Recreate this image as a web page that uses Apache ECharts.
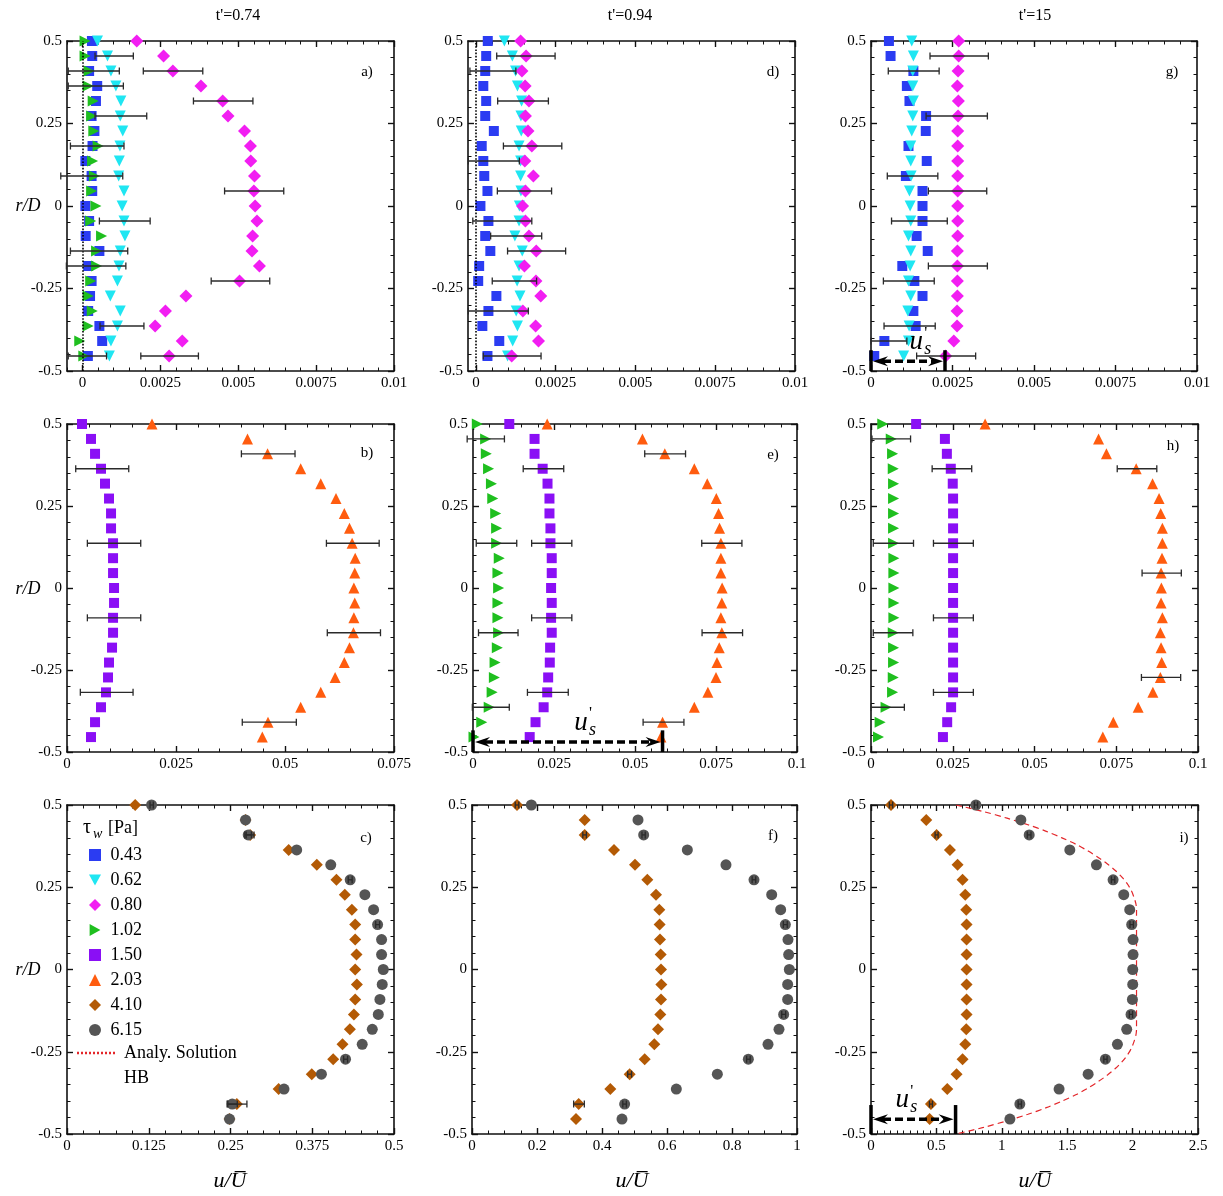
<!DOCTYPE html>
<html>
<head>
<meta charset="utf-8">
<title>velocity profiles</title>
<script src="https://cdn.jsdelivr.net/npm/echarts@6/dist/echarts.min.js"></script>
<style>
  html, body { margin: 0; padding: 0; background: #fff; }
  #chart { width: 1223px; height: 1196px; }
</style>
</head>
<body>
<div id="chart"></div>
<script>
// radial stations r/D
const rD = [0.5, 0.4545, 0.4091, 0.3636, 0.3182, 0.2727, 0.2273, 0.1818, 0.1364, 0.0909, 0.0455, 0,
  -0.0455, -0.0909, -0.1364, -0.1818, -0.2273, -0.2727, -0.3182, -0.3636, -0.4091, -0.4545];

// tick labels
const yTicks = [-0.5, -0.25, 0, 0.25, 0.5];
const ticksRow1 = [0, 0.0025, 0.005, 0.0075, 0.01];
const ticksB = [0, 0.025, 0.05, 0.075];
const ticksEH = [0, 0.025, 0.05, 0.075, 0.1];
const ticksC = [0, 0.125, 0.25, 0.375, 0.5];
const ticksF = [0, 0.2, 0.4, 0.6, 0.8, 1];
const ticksI = [0, 0.5, 1, 1.5, 2, 2.5];

const titles = ["t'=0.74", "t'=0.94", "t'=15"];
const panelLetters = ['a)', 'd)', 'g)', 'b)', 'e)', 'h)', 'c)', 'f)', 'i)'];
const legendNames = ['0.43', '0.62', '0.80', '1.02', '1.50', '2.03', '4.10', '6.15'];

// a) t'=0.74
const a043 = [0.0003, 0.00031, 0.00021, 0.00047, 0.00043, 0.00029, 0.00038, 0.00032, 0.00009, 0.00029, 0.00031,
  0.00009, 0.00021, 0.0001, 0.00054, 0.00018, 0.00029, 0.00024, 0.00018, 0.00054, 0.00063, 0.00017];
const a062 = [0.00048, 0.0008, 0.00091, 0.00107, 0.00123, 0.00121, 0.00129, 0.0012, 0.00118, 0.00116, 0.00133,
  0.00127, 0.00133, 0.00136, 0.00121, 0.00117, 0.00112, 0.00089, 0.00121, 0.00112, 0.00091, 0.00086];
const a080 = [0.00174, 0.0026, 0.0029, 0.0038, 0.0045, 0.00467, 0.0052, 0.00539, 0.0054, 0.00552, 0.0055,
  0.00554, 0.0056, 0.00546, 0.00544, 0.00568, 0.00504, 0.00332, 0.00266, 0.00233, 0.0032, 0.00278];
const a102 = [0.00008, 0.00008, 0.00021, 0.00018, 0.00034, 0.00029, 0.00036, 0.0005, 0.00032, 0.00038, 0.00029,
  0.00043, 0.00026, 0.00061, 0.00045, 0.00045, 0.00026, 0.00018, 0.00031, 0.00018, -0.00009, 0.00004];
const aErr = [[0.0004, 0.00163, 0.4545], [-0.00046, 0.00118, 0.4091], [0.00195, 0.00386, 0.4091],
  [-0.00046, 0.00131, 0.3636], [0.00356, 0.00547, 0.3182], [0.0004, 0.00206, 0.2727],
  [-0.00039, 0.00133, 0.1818], [-0.0007, 0.00129, 0.0909], [0.00456, 0.00646, 0.0455],
  [0.00054, 0.00217, -0.0455], [-0.00039, 0.00145, -0.1364], [-0.00052, 0.00139, -0.1818],
  [0.00413, 0.00601, -0.2273], [0.00056, 0.00197, -0.3636], [0.00187, 0.00372, -0.4545],
  [-0.00046, 0.00077, -0.4545]];

// d) t'=0.94
const d043 = [0.00037, 0.00032, 0.00029, 0.00023, 0.00032, 0.00029, 0.00056, 0.00018, 0.00023, 0.00026, 0.00036,
  0.00014, 0.00039, 0.00029, 0.00045, 0.0001, 0.00007, 0.00064, 0.00039, 0.0002, 0.00073, 0.00036];
const d062 = [0.00089, 0.00114, 0.00124, 0.0013, 0.00143, 0.00141, 0.00142, 0.00135, 0.0014, 0.0014, 0.00141,
  0.00136, 0.00135, 0.00122, 0.00145, 0.00135, 0.00129, 0.00138, 0.00126, 0.0013, 0.00115, 0.00099];
const d080 = [0.0014, 0.00157, 0.00144, 0.00154, 0.00166, 0.00155, 0.00163, 0.00175, 0.00153, 0.0018, 0.00155,
  0.00146, 0.00155, 0.00166, 0.00189, 0.00152, 0.00188, 0.00203, 0.00147, 0.00187, 0.00196, 0.00112];
const dErr = [[0.00065, 0.00248, 0.4545], [-0.00019, 0.00125, 0.4091], [0.00068, 0.00227, 0.3182],
  [0.00086, 0.00269, 0.1818], [-0.00024, 0.00136, 0.1364], [0.00067, 0.00237, 0.0455],
  [-0.0001, 0.00175, -0.0455], [0.00046, 0.00206, -0.0909], [0.00099, 0.00281, -0.1364],
  [0.00051, 0.0019, -0.2273], [-0.00024, 0.00164, -0.3182], [0.00023, 0.00204, -0.4545]];

// g) t'=15
const g043 = [0.00055, 0.0006, 0.0013, 0.0011, 0.00118, 0.00169, 0.00168, 0.00115, 0.00171, 0.00107, 0.00158,
  0.00158, 0.00158, 0.0014, 0.00174, 0.00096, 0.00133, 0.00158, 0.0013, 0.00137, 0.00041, 0.0001];
const g062 = [0.00125, 0.0013, 0.00128, 0.00128, 0.0013, 0.00128, 0.00125, 0.00122, 0.00122, 0.00123, 0.00118,
  0.0012, 0.00122, 0.00115, 0.00122, 0.0012, 0.00115, 0.00122, 0.00113, 0.00117, 0.00115, 0.001];
const g080 = [0.00269, 0.00269, 0.00267, 0.00265, 0.00268, 0.00267, 0.00266, 0.00266, 0.00266, 0.00266, 0.00266,
  0.00266, 0.00266, 0.00266, 0.00265, 0.00265, 0.00265, 0.00265, 0.00264, 0.00264, 0.00254, 0.00229];
const gErr = [[0.00181, 0.0036, 0.4545], [0.00053, 0.00209, 0.4091], [0.00169, 0.00357, 0.2727],
  [0.0005, 0.00205, 0.0909], [0.00176, 0.00355, 0.0455], [0.00063, 0.00234, -0.0455],
  [0.00176, 0.00357, -0.1818], [0.00038, 0.00194, -0.2273], [0.0004, 0.00197, -0.3636],
  [0.0, 0.0011, -0.4091], [0.0014, 0.00321, -0.4545]];

// b) t'=0.74
const b150 = [0.00344, 0.0055, 0.00643, 0.0078, 0.00872, 0.00964, 0.0101, 0.0101, 0.01056, 0.01056, 0.01056,
  0.01079, 0.01079, 0.01056, 0.01056, 0.01033, 0.00964, 0.00941, 0.00895, 0.0078, 0.00643, 0.0055];
const b203 = [0.0195, 0.0414, 0.046, 0.0536, 0.0582, 0.0617, 0.0636, 0.0648, 0.0654, 0.0661, 0.066,
  0.0658, 0.066, 0.0658, 0.0657, 0.0648, 0.0636, 0.0615, 0.0582, 0.0536, 0.0461, 0.0448];
const bErr = [[0.002, 0.01416, 0.3636], [0.04, 0.0523, 0.4091], [0.00467, 0.01691, 0.1364],
  [0.0595, 0.0716, 0.1364], [0.00467, 0.01691, -0.0909], [0.0597, 0.0719, -0.1364],
  [0.00306, 0.01515, -0.3182], [0.0402, 0.0526, -0.4091]];

// e) t'=0.94
const e102 = [0.00134, 0.0039, 0.0041, 0.0048, 0.0057, 0.0061, 0.007, 0.0073, 0.0073, 0.0081, 0.0077,
  0.0079, 0.0077, 0.0077, 0.0079, 0.0075, 0.0068, 0.0066, 0.0059, 0.005, 0.0027, 0.0003];
const e150 = [0.0112, 0.019, 0.019, 0.0215, 0.023, 0.0236, 0.0236, 0.0239, 0.0239, 0.0243, 0.0243,
  0.0241, 0.0243, 0.0241, 0.0243, 0.0238, 0.0237, 0.0232, 0.0229, 0.0218, 0.0193, 0.0175];
const e203 = [0.0229, 0.0523, 0.0592, 0.0683, 0.0723, 0.0751, 0.0758, 0.0761, 0.0765, 0.0765, 0.0765,
  0.0769, 0.0768, 0.0765, 0.0768, 0.076, 0.0753, 0.075, 0.0725, 0.0683, 0.0585, 0.058];
const eErr = [[-0.0018, 0.0097, 0.4545], [0.001, 0.0135, 0.1364], [0.0017, 0.0139, -0.1364],
  [-0.0002, 0.0112, -0.3636], [0.0155, 0.028, 0.3636], [0.0181, 0.0305, 0.1364],
  [0.0181, 0.0305, -0.0909], [0.0168, 0.0294, -0.3182], [0.053, 0.0656, 0.4091],
  [0.0706, 0.083, 0.1364], [0.0707, 0.0832, -0.1364], [0.0525, 0.0651, -0.4091]];

// h) t'=15
const h102 = [0.0036, 0.0062, 0.0066, 0.0068, 0.0069, 0.0069, 0.0069, 0.0069, 0.0069, 0.007, 0.007,
  0.007, 0.007, 0.007, 0.0068, 0.0069, 0.0069, 0.0068, 0.0066, 0.0046, 0.0028, 0.0023];
const h150 = [0.0138, 0.0226, 0.0232, 0.0244, 0.025, 0.0251, 0.0251, 0.0251, 0.0251, 0.0251, 0.0251,
  0.0251, 0.0251, 0.0251, 0.0251, 0.0251, 0.0251, 0.0251, 0.0251, 0.0245, 0.0233, 0.022];
const h203 = [0.0349, 0.0696, 0.072, 0.0811, 0.0861, 0.0881, 0.0886, 0.0891, 0.0891, 0.089, 0.0887,
  0.0888, 0.0887, 0.0891, 0.0885, 0.0887, 0.0889, 0.0885, 0.0862, 0.0817, 0.0741, 0.0709];
const hErr = [[0.0003, 0.0121, 0.4545], [0.0007, 0.013, 0.1364], [0.0007, 0.0128, -0.1364],
  [0.0, 0.0102, -0.3636], [0.0187, 0.0308, 0.3636], [0.0191, 0.0313, 0.1364],
  [0.0191, 0.0313, -0.0909], [0.0191, 0.0313, -0.3182], [0.0753, 0.0874, 0.3636],
  [0.0829, 0.0949, 0.0455], [0.0827, 0.0947, -0.2727]];

// c) t'=0.74
const c410 = [0.1043, 0.273, 0.28, 0.339, 0.382, 0.412, 0.4248, 0.4356, 0.4407, 0.4407, 0.4427,
  0.4407, 0.4432, 0.4407, 0.4387, 0.4325, 0.4213, 0.407, 0.3742, 0.3236, 0.2597, 0.2485];
const c615 = [0.1293, 0.273, 0.2771, 0.3512, 0.4033, 0.433, 0.4555, 0.4688, 0.4749, 0.481, 0.481,
  0.4836, 0.482, 0.4785, 0.476, 0.4668, 0.4514, 0.4259, 0.389, 0.3318, 0.2526, 0.2485];
const cErr = [[0.274, 0.286, 0.4091], [0.2459, 0.2751, -0.4091], [0.127, 0.132, 0.5], [0.272, 0.282, 0.4091],
  [0.43, 0.436, 0.2727], [0.472, 0.478, 0.1364], [0.423, 0.429, -0.2727], [0.2448, 0.2604, -0.4091]];

// f) t'=0.94
const f410 = [0.1385, 0.3467, 0.3467, 0.4369, 0.5015, 0.5395, 0.5662, 0.5764, 0.5774, 0.5785, 0.5805,
  0.5815, 0.5826, 0.5815, 0.5795, 0.5723, 0.561, 0.5313, 0.4851, 0.4256, 0.3282, 0.32];
const f615 = [0.1826, 0.5108, 0.5282, 0.6626, 0.7815, 0.8677, 0.9221, 0.9497, 0.9641, 0.9723, 0.9744,
  0.9764, 0.9713, 0.9713, 0.959, 0.9446, 0.9108, 0.8503, 0.7549, 0.6287, 0.4697, 0.4615];
const fErr = [[0.133, 0.144, 0.5], [0.341, 0.352, 0.4091], [0.479, 0.491, -0.3182], [0.3128, 0.3456, -0.4091],
  [0.523, 0.533, 0.4091], [0.862, 0.873, 0.2727], [0.958, 0.97, 0.1364], [0.953, 0.965, -0.1364],
  [0.845, 0.856, -0.2727], [0.464, 0.475, -0.4091]];

// i) t'=15
const i410 = [0.153, 0.4226, 0.5015, 0.6034, 0.6619, 0.7001, 0.7205, 0.7281, 0.7307, 0.7307, 0.7307,
  0.7307, 0.7307, 0.7307, 0.7307, 0.7281, 0.7205, 0.7001, 0.6543, 0.583, 0.4582, 0.448];
const i615 = [0.802, 1.1456, 1.2093, 1.52, 1.7235, 1.8508, 1.9323, 1.978, 1.993, 2.0035, 2.0035,
  2.001, 2.001, 1.9985, 1.988, 1.955, 1.884, 1.792, 1.66, 1.438, 1.138, 1.062];
const iErr = [[0.14, 0.166, 0.5], [0.49, 0.513, 0.4091], [0.447, 0.47, -0.4091], [0.79, 0.815, 0.5],
  [1.195, 1.223, 0.4091], [1.838, 1.864, 0.2727], [1.98, 2.006, 0.1364], [1.975, 2.0, -0.1364],
  [1.78, 1.805, -0.2727], [1.125, 1.15, -0.4091]];

// Herschel-Bulkley analytical profile (panel i)
const hbR = [0.5, 0.48, 0.46, 0.44, 0.42, 0.4, 0.38, 0.36, 0.34, 0.32, 0.3, 0.28, 0.26, 0.24, 0.22, 0.2, 0.18, 0,
  -0.18, -0.2, -0.22, -0.24, -0.26, -0.28, -0.3, -0.32, -0.34, -0.36, -0.38, -0.4, -0.42, -0.44, -0.46, -0.48, -0.5];
const hbU = [0.65, 0.86, 1.04, 1.2, 1.34, 1.46, 1.57, 1.66, 1.74, 1.81, 1.87, 1.92, 1.96, 1.99, 2.01, 2.025, 2.03, 2.03,
  2.03, 2.025, 2.01, 1.99, 1.96, 1.92, 1.87, 1.81, 1.74, 1.66, 1.57, 1.46, 1.34, 1.2, 1.04, 0.86, 0.65];

// slip velocity u's arrows (panels e, g, i)
const usEnd = [0.0585, 0.00227, 0.6466];
const usLineR = [-0.4695, -0.4707, -0.4554];
const usBarTop = [-0.434, -0.437, -0.412];

const SERIF = '"Liberation Serif", "Times New Roman", serif';

// panel geometry, row-major: a d g / b e h / c f i
const layout = [
  [67, 41, 327, 330], [468, 41, 327, 330], [871, 41, 326, 330],
  [67, 424, 327, 328], [473, 424, 324, 328], [871, 424, 327, 328],
  [67, 805, 327, 329], [472, 805, 325, 329], [871, 805, 327, 329]
];
const xRanges = [[-0.0005, 0.01], [-0.00025, 0.01], [0, 0.01], [0, 0.075], [0, 0.1], [0, 0.1], [0, 0.5], [0, 1], [0, 2.5]];
const xMajors = [ticksRow1, ticksRow1, ticksRow1, ticksB, ticksEH, ticksEH, ticksC, ticksF, ticksI];
const xMinorStep = [0.0005, 0.0005, 0.0005, 0.005, 0.005, 0.005, 0.025, 0.05, 0.05];

const marks = {
  '0.43': { symbol: 'rect', size: 10, rot: 0, color: '#2b3cf2' },
  '0.62': { symbol: 'triangle', size: 11, rot: 180, color: '#1fe6f2' },
  '0.80': { symbol: 'diamond', size: 13, rot: 0, color: '#f21ef2' },
  '1.02': { symbol: 'triangle', size: 11, rot: -90, color: '#1fbf1f' },
  '1.50': { symbol: 'rect', size: 10, rot: 0, color: '#8a0ff5' },
  '2.03': { symbol: 'triangle', size: 11, rot: 0, color: '#ff5c0f' },
  '4.10': { symbol: 'diamond', size: 12, rot: 0, color: '#b35a05' },
  '6.15': { symbol: 'circle', size: 11, rot: 0, color: '#555555' }
};
// legend icons (rotated triangles need their own outline)
const legendIcons = {
  '0.43': 'rect', '0.62': 'path://M0,0L10,0L5,9Z', '0.80': 'diamond', '1.02': 'path://M0,0L9,5L0,10Z',
  '1.50': 'rect', '2.03': 'triangle', '4.10': 'diamond', '6.15': 'circle'
};

const grids = [], xAxes = [], yAxes = [];

function tickList(min, max, step) {
  const out = [];
  for (let v = Math.ceil(min / step - 1e-6) * step; v <= max + step * 1e-6; v += step) out.push(+v.toFixed(8));
  return out;
}

function axisOf(gi, pos, min, max, values, len, withLine, labels) {
  return {
    type: 'value', gridIndex: gi, position: pos, min: min, max: max,
    splitLine: { show: false },
    axisLine: { show: withLine, onZero: false, lineStyle: { color: '#111', width: 1.6 } },
    axisTick: { show: true, inside: true, length: len, customValues: values,
      lineStyle: { color: '#111', width: withLine ? 1.4 : 1 } },
    axisLabel: labels ? {
      show: true, customValues: values, showMinLabel: true, showMaxLabel: true,
      formatter: v => String(+(+v).toFixed(6)), fontFamily: SERIF, fontSize: 15, color: '#000', margin: 5
    } : { show: false }
  };
}

layout.forEach((rc, p) => {
  const g = { left: rc[0], top: rc[1], width: rc[2], height: rc[3], containLabel: false };
  grids.push(Object.assign({}, g), Object.assign({}, g));
  const [x0, x1] = xRanges[p];
  const xMin = tickList(x0, x1, xMinorStep[p]);
  const yMin = tickList(-0.5, 0.5, 0.05);
  xAxes.push(axisOf(2 * p, 'bottom', x0, x1, xMajors[p], 6, true, true));
  xAxes.push(axisOf(2 * p, 'top', x0, x1, xMajors[p], 6, true, false));
  xAxes.push(axisOf(2 * p + 1, 'bottom', x0, x1, xMin, 3.5, false, false));
  xAxes.push(axisOf(2 * p + 1, 'top', x0, x1, xMin, 3.5, false, false));
  yAxes.push(axisOf(2 * p, 'left', -0.5, 0.5, yTicks, 6, true, true));
  yAxes.push(axisOf(2 * p, 'right', -0.5, 0.5, yTicks, 6, true, false));
  yAxes.push(axisOf(2 * p + 1, 'left', -0.5, 0.5, yMin, 3.5, false, false));
  yAxes.push(axisOf(2 * p + 1, 'right', -0.5, 0.5, yMin, 3.5, false, false));
});

function scat(name, p, xs) {
  const m = marks[name];
  return {
    type: 'scatter', name: name, xAxisIndex: 4 * p, yAxisIndex: 4 * p,
    data: xs.map((x, i) => [x, rD[i]]),
    symbol: m.symbol, symbolSize: m.size, symbolRotate: m.rot,
    itemStyle: { color: m.color, opacity: 1 }, clip: false, silent: true, z: 3
  };
}

function errBars(p, list) {
  return {
    type: 'custom', xAxisIndex: 4 * p, yAxisIndex: 4 * p, data: list, clip: false, silent: true, z: 5,
    encode: { x: [0, 1], y: 2 },
    renderItem: (params, api) => {
      const a = api.coord([api.value(0), api.value(2)]);
      const b = api.coord([api.value(1), api.value(2)]);
      const h = 3.5;
      const st = { stroke: '#2a2a2a', lineWidth: 1.3 };
      return {
        type: 'group', children: [
          { type: 'line', shape: { x1: a[0], y1: a[1], x2: b[0], y2: b[1] }, style: st },
          { type: 'line', shape: { x1: a[0], y1: a[1] - h, x2: a[0], y2: a[1] + h }, style: st },
          { type: 'line', shape: { x1: b[0], y1: b[1] - h, x2: b[0], y2: b[1] + h }, style: st }
        ]
      };
    }
  };
}

function slipArrow(p, k, frac) {
  return {
    type: 'custom', xAxisIndex: 4 * p, yAxisIndex: 4 * p, clip: false, silent: true, z: 6,
    data: [[usEnd[k], usLineR[k], usBarTop[k]]],
    encode: { x: 0, y: 1 },
    renderItem: (params, api) => {
      const p0 = api.coord([0, api.value(1)]);
      const p1 = api.coord([api.value(0), api.value(1)]);
      const top = api.coord([0, api.value(2)])[1];
      const bot = api.coord([0, -0.5])[1];
      const y = p0[1], xa = p0[0], xb = p1[0];
      const blk = { stroke: '#000', lineWidth: 3.5 };
      const lx = xa + frac * (xb - xa), ly = y - 19;
      return {
        type: 'group', children: [
          { type: 'line', shape: { x1: xa, y1: top, x2: xa, y2: bot }, style: blk },
          { type: 'line', shape: { x1: xb, y1: top, x2: xb, y2: bot }, style: blk },
          { type: 'line', shape: { x1: xa + 12, y1: y, x2: xb - 12, y2: y },
            style: { stroke: '#000', lineWidth: 3.5, lineDash: [8, 4] } },
          { type: 'polygon', shape: { points: [[xa + 2, y], [xa + 17, y - 5], [xa + 12, y], [xa + 17, y + 5]] },
            style: { fill: '#000' } },
          { type: 'polygon', shape: { points: [[xb - 2, y], [xb - 17, y - 5], [xb - 12, y], [xb - 17, y + 5]] },
            style: { fill: '#000' } },
          { type: 'text', x: lx, y: ly, style: { text: 'u', font: 'italic 27px ' + SERIF, fill: '#000',
            align: 'center', verticalAlign: 'middle' } },
          { type: 'text', x: lx + 8, y: ly - 9, style: { text: "'", font: '17px ' + SERIF, fill: '#000',
            align: 'left', verticalAlign: 'middle' } },
          { type: 'text', x: lx + 8, y: ly + 7, style: { text: 's', font: 'italic 18px ' + SERIF, fill: '#000',
            align: 'left', verticalAlign: 'middle' } }
        ]
      };
    }
  };
}

const zeroLine = {
  silent: true, symbol: ['none', 'none'], animation: false, label: { show: false },
  lineStyle: { type: 'dotted', color: '#000', width: 1.6 }, data: [{ xAxis: 0 }]
};

const series = [];
// a
series.push(Object.assign(scat('0.43', 0, a043), { markLine: zeroLine }), scat('0.62', 0, a062),
  scat('0.80', 0, a080), scat('1.02', 0, a102), errBars(0, aErr));
// d
series.push(Object.assign(scat('0.43', 1, d043), { markLine: zeroLine }), scat('0.62', 1, d062),
  scat('0.80', 1, d080), errBars(1, dErr));
// g
series.push(scat('0.43', 2, g043), scat('0.62', 2, g062), scat('0.80', 2, g080), errBars(2, gErr),
  slipArrow(2, 1, 0.61));
// b
series.push(scat('1.50', 3, b150), scat('2.03', 3, b203), errBars(3, bErr));
// e
series.push(scat('1.02', 4, e102), scat('1.50', 4, e150), scat('2.03', 4, e203), errBars(4, eErr),
  slipArrow(4, 0, 0.57));
// h
series.push(scat('1.02', 5, h102), scat('1.50', 5, h150), scat('2.03', 5, h203), errBars(5, hErr));
// c
series.push(scat('4.10', 6, c410), scat('6.15', 6, c615), errBars(6, cErr));
// f
series.push(scat('4.10', 7, f410), scat('6.15', 7, f615), errBars(7, fErr));
// i
series.push({
  type: 'line', name: 'Analy. Solution', xAxisIndex: 32, yAxisIndex: 32,
  data: hbU.map((u, i) => [u, hbR[i]]), symbol: 'none', showSymbol: false, smooth: 0.3, silent: true, z: 2,
  itemStyle: { color: '#e3262a' },
  lineStyle: { color: '#e3262a', width: 1.2, type: [6, 4] }
});
series.push(scat('4.10', 8, i410), scat('6.15', 8, i615), errBars(8, iErr), slipArrow(8, 2, 0.37));

const txt = (x, y, text, font, align) => ({
  type: 'text', x: x, y: y, silent: true, z: 10,
  style: { text: text, font: font, fill: '#000', align: align || 'center', verticalAlign: 'middle',
    textAlign: align || 'center', textVerticalAlign: 'middle' }
});

const graphic = [];
[238, 630, 1035].forEach((x, i) => graphic.push(txt(x, 16, titles[i], '16px ' + SERIF)));
const letterPos = [[367, 72], [773, 72], [1172, 72], [367, 453], [773, 455], [1173, 446], [366, 838], [773, 836], [1184, 838]];
letterPos.forEach((pt, i) => graphic.push(txt(pt[0], pt[1], panelLetters[i], '15px ' + SERIF)));
[206, 589, 970].forEach(y => graphic.push(txt(28, y, 'r/D', 'italic 18px ' + SERIF)));
[230, 632, 1035].forEach(x => graphic.push(txt(x, 1181, 'u/U\u0305', 'italic 22px ' + SERIF)));
// legend header and the analytical-solution entry
graphic.push(txt(83, 828, '\u03c4', '20px ' + SERIF, 'left'));
graphic.push(txt(93, 834, 'w', 'italic 14px ' + SERIF, 'left'));
graphic.push(txt(108, 828, '[Pa]', '18px ' + SERIF, 'left'));
graphic.push({
  type: 'line', silent: true, z: 10, shape: { x1: 77, y1: 1053, x2: 116, y2: 1053 },
  style: { stroke: '#e3262a', lineWidth: 2.5, lineDash: [2, 2] }
});
graphic.push(txt(124, 1053, 'Analy. Solution', '18px ' + SERIF, 'left'));
graphic.push(txt(124, 1078, 'HB', '18px ' + SERIF, 'left'));

const chart = echarts.init(document.getElementById('chart'));
chart.setOption({
  backgroundColor: '#fff',
  animation: false,
  grid: grids,
  xAxis: xAxes,
  yAxis: yAxes,
  legend: {
    data: legendNames.map(n => ({ name: n, icon: legendIcons[n] })),
    orient: 'vertical', left: 84, top: 841, itemWidth: 12, itemHeight: 12, itemGap: 7,
    selectedMode: false, formatter: n => ' ' + n,
    textStyle: { fontFamily: SERIF, fontSize: 18, color: '#000', lineHeight: 18 }
  },
  graphic: graphic,
  series: series
});
</script>
</body>
</html>
